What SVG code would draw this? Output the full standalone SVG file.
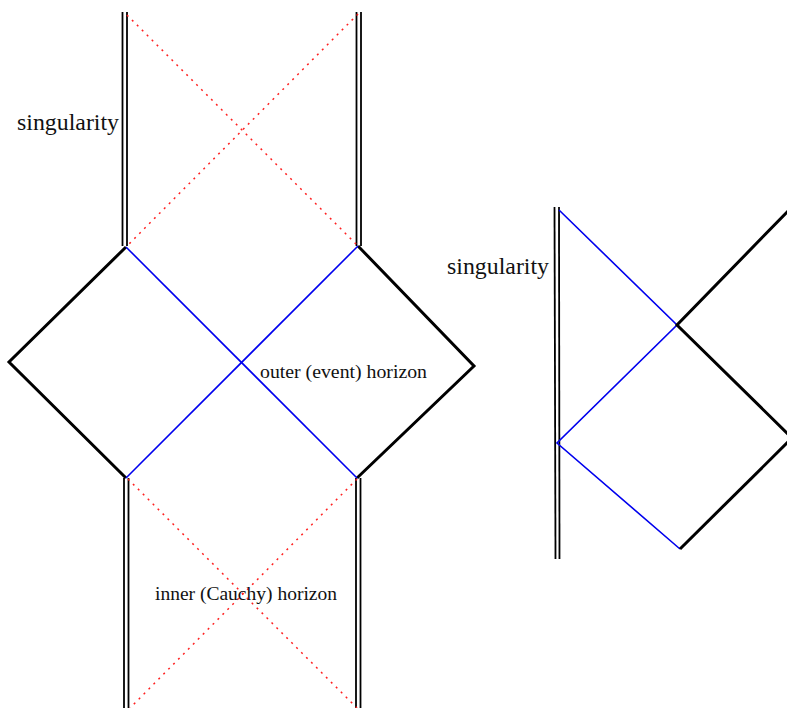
<svg xmlns="http://www.w3.org/2000/svg" width="787" height="708" viewBox="0 0 787 708">
<style>
.bound{stroke:#000;stroke-width:3;fill:none;stroke-linejoin:miter}
.hz{stroke:#0000ee;stroke-width:1.6;fill:none}
.red{stroke:#ff2020;stroke-width:1.5;stroke-dasharray:2 5;fill:none}
.sing{stroke:#000;stroke-width:1.8;fill:none}
text{font-family:"Liberation Serif","DejaVu Serif",serif;fill:#111}
</style>
<rect width="787" height="708" fill="#fff"/>
<g id="connectors">
<g id="sing-top-left"><line class="sing" x1="122.5" y1="12" x2="122.5" y2="246"/><line class="sing" x1="127" y1="12" x2="127" y2="246"/></g>
<g id="sing-top-right"><line class="sing" x1="356.5" y1="12" x2="356.5" y2="246"/><line class="sing" x1="361" y1="12" x2="361" y2="246"/></g>
<g id="sing-bot-left"><line class="sing" x1="124" y1="478" x2="124" y2="708"/><line class="sing" x1="128.5" y1="478" x2="128.5" y2="708"/></g>
<g id="sing-bot-right"><line class="sing" x1="356" y1="478" x2="356" y2="708"/><line class="sing" x1="360.5" y1="478" x2="360.5" y2="708"/></g>
<line class="red" x1="127" y1="15" x2="358" y2="246"/>
<line class="red" x1="358" y1="14" x2="127" y2="246"/>
<line class="red" x1="128" y1="479" x2="357" y2="708"/>
<line class="red" x1="357" y1="479" x2="130" y2="708"/>
<polyline class="bound" points="126,247 9,362 126,478"/>
<polyline class="bound" points="358,246 474,366 357,478"/>
<line class="hz" x1="126" y1="247" x2="357" y2="478"/>
<line class="hz" x1="358" y1="246" x2="126" y2="478"/>
<g id="sing-right"><line class="sing" x1="554.5" y1="207" x2="555.5" y2="559"/><line class="sing" x1="559" y1="207" x2="559.5" y2="559"/></g>
<polyline class="hz" points="559,210 677,325 557,443 680,549"/>
<polyline class="bound" points="789,210 677,325 789,435"/>
<polyline class="bound" points="680,549 789,441"/>
</g>
<g id="labels">
<text x="17" y="130" font-size="23" textLength="102" lengthAdjust="spacingAndGlyphs">singularity</text>
<text x="447" y="274" font-size="23" textLength="102" lengthAdjust="spacingAndGlyphs">singularity</text>
<text x="260" y="378" font-size="18" textLength="167" lengthAdjust="spacingAndGlyphs">outer (event) horizon</text>
<text x="155" y="600" font-size="18" textLength="182" lengthAdjust="spacingAndGlyphs">inner (Cauchy) horizon</text>
</g>
</svg>
